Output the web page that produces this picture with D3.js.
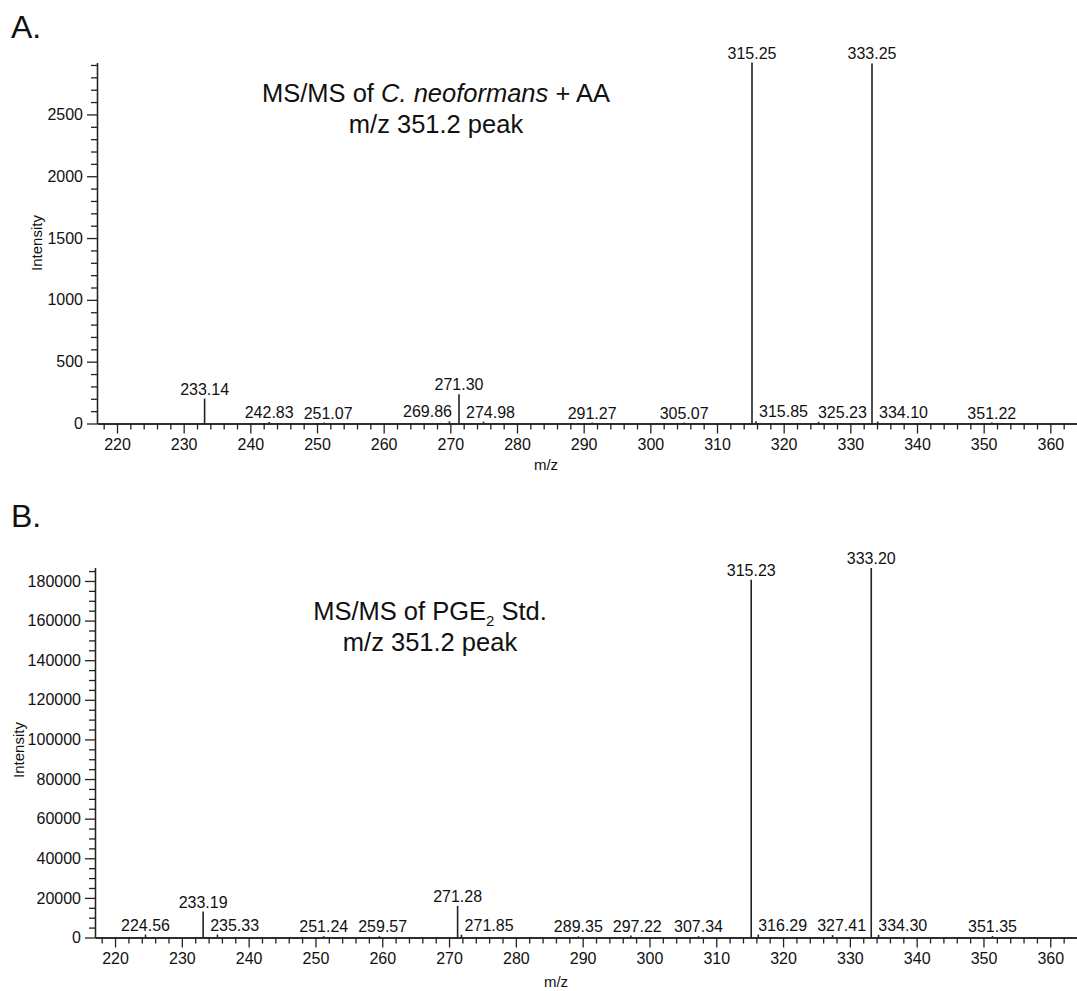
<!DOCTYPE html>
<head>
  <meta charset="utf-8">
  <script src="https://d3js.org/d3.v7.min.js"></script>
  <style>
  *{
    margin:0;
    padding:0;
  }
  body{
    background: #fff;
    font-family: 'Liberation Sans', Arial, sans-serif;
  }
  text{
    fill: #111;
  }
  .axis path, .axis line{
    stroke: #222;
    stroke-width: 1.3px;
  }
  .axis text{
    font-size: 16px;
    font-family: 'Liberation Sans', Arial, sans-serif;
    fill: #111;
  }
  </style>
</head>

<body>
  <script>
    //m/z axis
    let mzDomain = [217, 364];
    let xTickLabels = [220, 230, 240, 250, 260, 270, 280, 290, 300, 310, 320, 330, 340, 350, 360];

    //panel A : C. neoformans + AA
    let peakMzA = [233.14, 242.83, 251.07, 269.86, 271.30, 274.98, 291.27, 305.07, 315.25, 315.85, 325.23, 333.25, 334.10, 351.22];
    let peakIntA = [202, 12, 8, 18, 237, 15, 8, 8, 2920, 18, 14, 2912, 16, 8];
    let yTicksA = [0, 500, 1000, 1500, 2000, 2500];

    //panel B : PGE2 standard
    let peakMzB = [224.56, 233.19, 235.33, 251.24, 259.57, 271.28, 271.85, 289.35, 297.22, 307.34, 315.23, 316.29, 327.41, 333.20, 334.30, 351.35];
    let peakIntB = [1500, 13100, 1500, 700, 700, 16000, 1400, 600, 1000, 700, 180600, 1500, 1200, 186500, 1400, 700];
    let yTicksB = [0, 20000, 40000, 60000, 80000, 100000, 120000, 140000, 160000, 180000];


    let svg = d3.select("body").append("svg")
      .attr("width", 1077)
      .attr("height", 991);


    function panel(cfg){
      let g = svg.append("g");

      let x = d3.scaleLinear().domain(mzDomain).range([cfg.left, 1077]);
      let y = d3.scaleLinear().domain([0, cfg.yMax]).range([cfg.bottom, cfg.top]);

      //minor x ticks every 2
      g.append("g").attr("class", "axis")
        .attr("transform", `translate(0,${cfg.bottom})`)
        .call(d3.axisBottom(x)
          .tickValues(d3.range(218, 364, 2).filter(v => v % 10))
          .tickSize(6).tickSizeOuter(0).tickFormat(""));

      g.append("g").attr("class", "axis")
        .attr("transform", `translate(0,${cfg.bottom})`)
        .call(d3.axisBottom(x)
          .tickValues(xTickLabels)
          .tickFormat(d3.format("d"))
          .tickSize(10).tickSizeOuter(0).tickPadding(5));

      //minor y ticks
      g.append("g").attr("class", "axis")
        .attr("transform", `translate(${cfg.left},0)`)
        .call(d3.axisLeft(y)
          .tickValues(d3.range(0, cfg.yMax, cfg.yMinor).filter(v => v % cfg.yTicks[1]))
          .tickSize(6).tickSizeOuter(0).tickFormat(""));

      g.append("g").attr("class", "axis")
        .attr("transform", `translate(${cfg.left},0)`)
        .call(d3.axisLeft(y)
          .tickValues(cfg.yTicks)
          .tickFormat(d3.format("d"))
          .tickSize(10).tickSizeOuter(0).tickPadding(4));

      let peaks = cfg.mz.map((m, i) => ({ mz: m, v: cfg.int[i] }));

      //sticks
      g.selectAll("line.peak")
        .data(peaks)
        .join("line")
        .attr("class", "peak")
        .attr("x1", d => x(d.mz))
        .attr("x2", d => x(d.mz))
        .attr("y1", y(0))
        .attr("y2", d => y(d.v))
        .attr("stroke", "#222")
        .attr("stroke-width", 1.6);

      //peak labels
      let lab = g.selectAll("text.peak")
        .data(peaks)
        .join("text")
        .attr("class", "peak")
        .attr("text-anchor", "middle")
        .style("font-size", "16px")
        .text(d => d.mz.toFixed(2))
        .attr("y", d => y(d.v) - 4);

      lab.each(function(d){
        d.w = this.getComputedTextLength();
        d.cx = x(d.mz);
        d.by = y(d.v) - 4;
      });

      //keep labels off the sticks and off each other
      let placed = [];
      peaks.slice().sort((a, b) => a.mz - b.mz).forEach(d => {
        peaks.forEach(p => {
          if (p === d) return;
          let px = x(p.mz);
          if (y(p.v) < d.by && Math.abs(d.cx - px) < d.w / 2 + 7) {
            d.cx = px + (d.cx >= px ? 1 : -1) * (d.w / 2 + 7);
          }
        });
        let prev = placed.filter(q => Math.abs(q.by - d.by) < 12).pop();
        if (prev && prev.cx + prev.w / 2 + 10 > d.cx - d.w / 2) {
          d.cx = prev.cx + prev.w / 2 + 10 + d.w / 2;
        }
        placed.push(d);
      });
      lab.attr("x", d => d.cx);

      //panel letter
      svg.append("text")
        .attr("x", 11)
        .attr("y", cfg.letterY)
        .style("font-size", "32px")
        .text(cfg.letter);

      //axis titles
      svg.append("text")
        .attr("transform", `translate(${cfg.intX},${cfg.intY}) rotate(-90)`)
        .attr("text-anchor", "middle")
        .attr("dy", "0.35em")
        .style("font-size", "15px")
        .text("Intensity");

      svg.append("text")
        .attr("x", cfg.mzX)
        .attr("y", cfg.mzY)
        .attr("text-anchor", "middle")
        .style("font-size", "15px")
        .text("m/z");

      //annotation
      let t1 = svg.append("text")
        .attr("x", cfg.titleX)
        .attr("y", cfg.titleY)
        .attr("text-anchor", "middle")
        .style("font-size", "25.5px");
      cfg.title(t1);

      svg.append("text")
        .attr("x", cfg.titleX)
        .attr("y", cfg.titleY + 31)
        .attr("text-anchor", "middle")
        .style("font-size", "25.5px")
        .text("m/z 351.2 peak");
    }


    panel({
      mz: peakMzA, int: peakIntA, yTicks: yTicksA, yMinor: 100, yMax: 2920,
      left: 97, bottom: 423.5, top: 62.5,
      letter: "A.", letterY: 38,
      intX: 37, intY: 243, mzX: 546, mzY: 470,
      titleX: 436, titleY: 102,
      title: t => {
        t.append("tspan").text("MS/MS of ");
        t.append("tspan").style("font-style", "italic").text("C. neoformans");
        t.append("tspan").text(" + AA");
      }
    });

    panel({
      mz: peakMzB, int: peakIntB, yTicks: yTicksB, yMinor: 5000, yMax: 186800,
      left: 95, bottom: 937.5, top: 567.5,
      letter: "B.", letterY: 527,
      intX: 19, intY: 750, mzX: 556, mzY: 987,
      titleX: 430, titleY: 620,
      title: t => {
        t.append("tspan").text("MS/MS of PGE");
        t.append("tspan").attr("dy", 6).style("font-size", "15px").text("2");
        t.append("tspan").attr("dy", -6).text(" Std.");
      }
    });

  </script>
</body>
